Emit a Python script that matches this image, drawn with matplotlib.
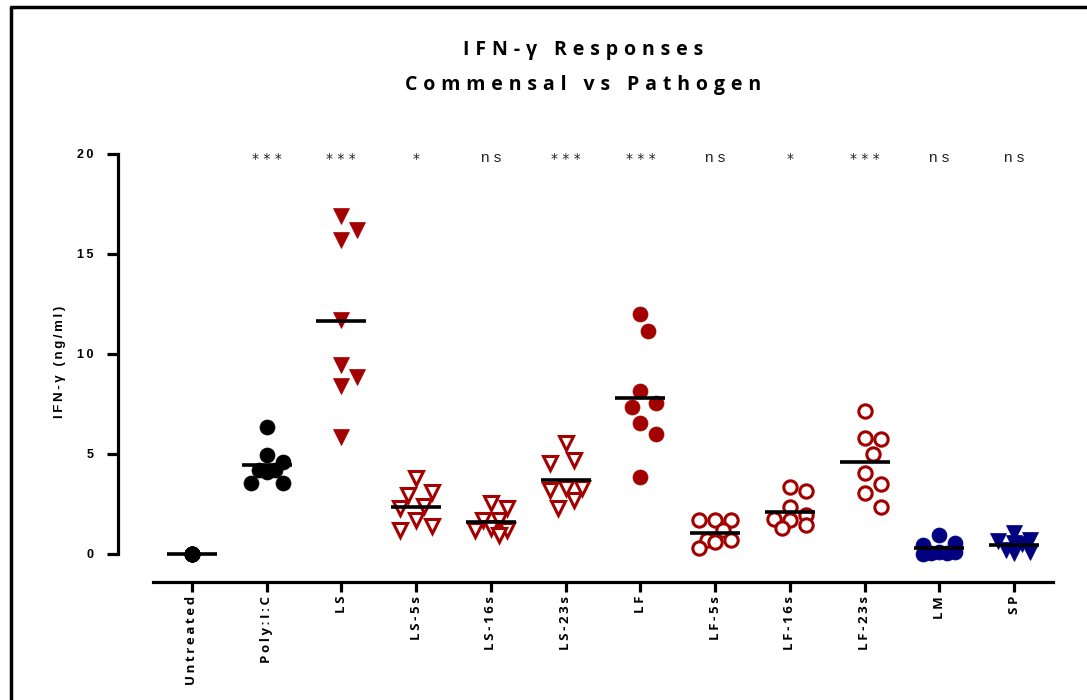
import matplotlib
matplotlib.use("Agg")
import matplotlib.pyplot as plt
from matplotlib.lines import Line2D
import numpy as np

categories = ["Untreated", "Poly:I:C", "LS", "LS-5s", "LS-16s", "LS-23s",
              "LF", "LF-5s", "LF-16s", "LF-23s", "LM", "SP"]
untreated = [0, 0, 0, 0, 0, 0, 0, 0]
polyic = [6.37, 4.95, 4.62, 4.2, 4.2, 4.12, 3.53, 3.53]
ls = [16.9, 16.2, 15.7, 11.7, 9.45, 8.87, 8.4, 5.87]
ls_5s = [3.78, 3.12, 2.95, 2.4, 2.28, 1.7, 1.4, 1.2]
ls_16s = [2.53, 2.28, 1.7, 1.7, 1.3, 1.2, 1.2, 0.95]
ls_23s = [5.53, 4.7, 4.57, 3.28, 3.28, 3.2, 2.7, 2.28]
lf = [12.0, 11.17, 8.17, 7.53, 7.33, 6.53, 6.0, 3.83]
lf_5s = [1.7, 1.7, 1.7, 1.2, 0.7, 0.7, 0.62, 0.28]
lf_16s = [3.33, 3.17, 2.33, 1.95, 1.73, 1.7, 1.45, 1.28]
lf_23s = [7.15, 5.82, 5.75, 4.98, 4.03, 3.48, 3.03, 2.37]
lm = [0.95, 0.53, 0.45, 0.1, 0.1, 0.05, 0.05, 0.0]
sp = [1.03, 0.7, 0.67, 0.55, 0.5, 0.2, 0.1, 0.05]
significance = ["", "***", "***", "*", "ns", "***", "***", "ns", "*", "***", "ns", "ns"]
title_lines = ["IFN-γ Responses", "Commensal vs Pathogen"]
ylabel = "IFN-γ (ng/ml)"
yticks = [0, 5, 10, 15, 20]

groups = [untreated, polyic, ls, ls_5s, ls_16s, ls_23s, lf, lf_5s, lf_16s, lf_23s, lm, sp]

RED = "#a30000"
NAVY = "#000080"
styles = [
    ("o", "black", True), ("o", "black", True),
    ("v", RED, True), ("v", RED, False), ("v", RED, False), ("v", RED, False),
    ("o", RED, True), ("o", RED, False), ("o", RED, False), ("o", RED, False),
    ("o", NAVY, True), ("v", NAVY, True),
]


def spaced(s, sep="\u2009"):
    return sep.join(list(s))


W, H = 1087, 700
fig = plt.figure(figsize=(W / 100, H / 100), dpi=100)
fig.patch.set_facecolor("white")

ax_left, ax_right, ax_top, ax_bot = 153, 1053, 154, 582
ax = fig.add_axes([ax_left / W, 1 - ax_bot / H, (ax_right - ax_left) / W, (ax_bot - ax_top) / H])
ax.set_xlim(-0.52, len(categories) - 1 + 0.52)
ax.set_ylim(-1.4, 20)

xscale = (ax_right - ax_left) / (len(categories) - 1 + 1.04)
yscale = (ax_bot - ax_top) / 21.4


def swarm(vals, diam=17.0, step=8.0):
    placed = []
    order = np.argsort(-np.asarray(vals), kind="stable")
    res = np.zeros(len(vals))
    for i in order:
        y = vals[i] * yscale
        chosen = None
        best_overlap = None
        for k in [0, 1, -1, 2, -2]:
            x = k * step
            d = [np.hypot(x - px, y - py) for px, py in placed]
            mind = min(d) if d else 1e9
            if mind >= diam:
                chosen = x
                break
            if best_overlap is None or mind > best_overlap[0]:
                best_overlap = (mind, x)
        if chosen is None:
            chosen = best_overlap[1]
        placed.append((chosen, y))
        res[i] = chosen / xscale
    return res


for i, (vals, (mk, col, filled)) in enumerate(zip(groups, styles)):
    vals = list(vals)
    if max(vals) == min(vals):
        offs = np.zeros(len(vals))
    else:
        offs = swarm(vals)
    xs = i + offs
    ms = 10.8 if mk == "o" else 11.5
    if filled:
        ax.plot(xs, vals, linestyle="none", marker=mk, ms=ms, mfc=col, mec=col, mew=0.5, zorder=3)
    else:
        ax.plot(xs, vals, linestyle="none", marker=mk, ms=ms - 1.2, mfc="white", mec=col, mew=2.2, zorder=3)
    m = float(np.mean(vals))
    ax.plot([i - 0.335, i + 0.335], [m, m], color="black", lw=2.6, solid_capstyle="butt", zorder=4)
    if significance[i]:
        star = "*" in significance[i]
        ax.text(i, 19.75 if star else 19.8, spaced(significance[i], " "), ha="center", va="center",
                fontsize=11 if not star else 10,
                family=["DejaVu Sans"] if star else ["Liberation Sans", "DejaVu Sans"],
                color="#222222")

for side in ("top", "right"):
    ax.spines[side].set_visible(False)
ax.spines["left"].set_position(("outward", 25))
ax.spines["left"].set_bounds(0, 20)
for side in ("left", "bottom"):
    ax.spines[side].set_linewidth(2.3)

ax.set_yticks(yticks)
ax.set_yticklabels([spaced(str(t)) for t in yticks], fontweight="bold",
                   family=["Liberation Sans", "DejaVu Sans"], fontsize=9)
ax.tick_params(axis="y", length=8, width=2.3, pad=10)
ax.set_xticks(range(len(categories)))
ax.set_xticklabels([spaced(c) for c in categories], rotation=90, fontweight="bold",
                   family=["Open Sans", "DejaVu Sans"], fontsize=9.5, va="top")
ax.tick_params(axis="x", length=7, width=2.3, pad=3)

fig.text(60 / W, 1 - 362 / H, spaced(ylabel), rotation=90, ha="center", va="center",
         fontsize=9.5, fontweight="bold", family=["Liberation Sans", "DejaVu Sans"])

fig.text(583 / W, 1 - 50 / H, spaced(title_lines[0], "\u2009\u200a"), ha="center", va="center",
         fontsize=14, fontweight="bold", family=["Open Sans", "DejaVu Sans"])
fig.text(583 / W, 1 - 85 / H, spaced(title_lines[1], "\u2009\u200a"), ha="center", va="center",
         fontsize=14, fontweight="bold", family=["Open Sans", "DejaVu Sans"])

# frame lines at the top and left edges
fig.add_artist(Line2D([10 / W, 1.0], [1 - 7 / H, 1 - 7 / H], color="black", lw=2.5,
                      transform=fig.transFigure, solid_capstyle="butt"))
fig.add_artist(Line2D([11 / W, 11 / W], [0, 1 - 6 / H], color="black", lw=2.5,
                      transform=fig.transFigure, solid_capstyle="butt"))

fig.savefig("out.png", dpi=100, facecolor="white")
